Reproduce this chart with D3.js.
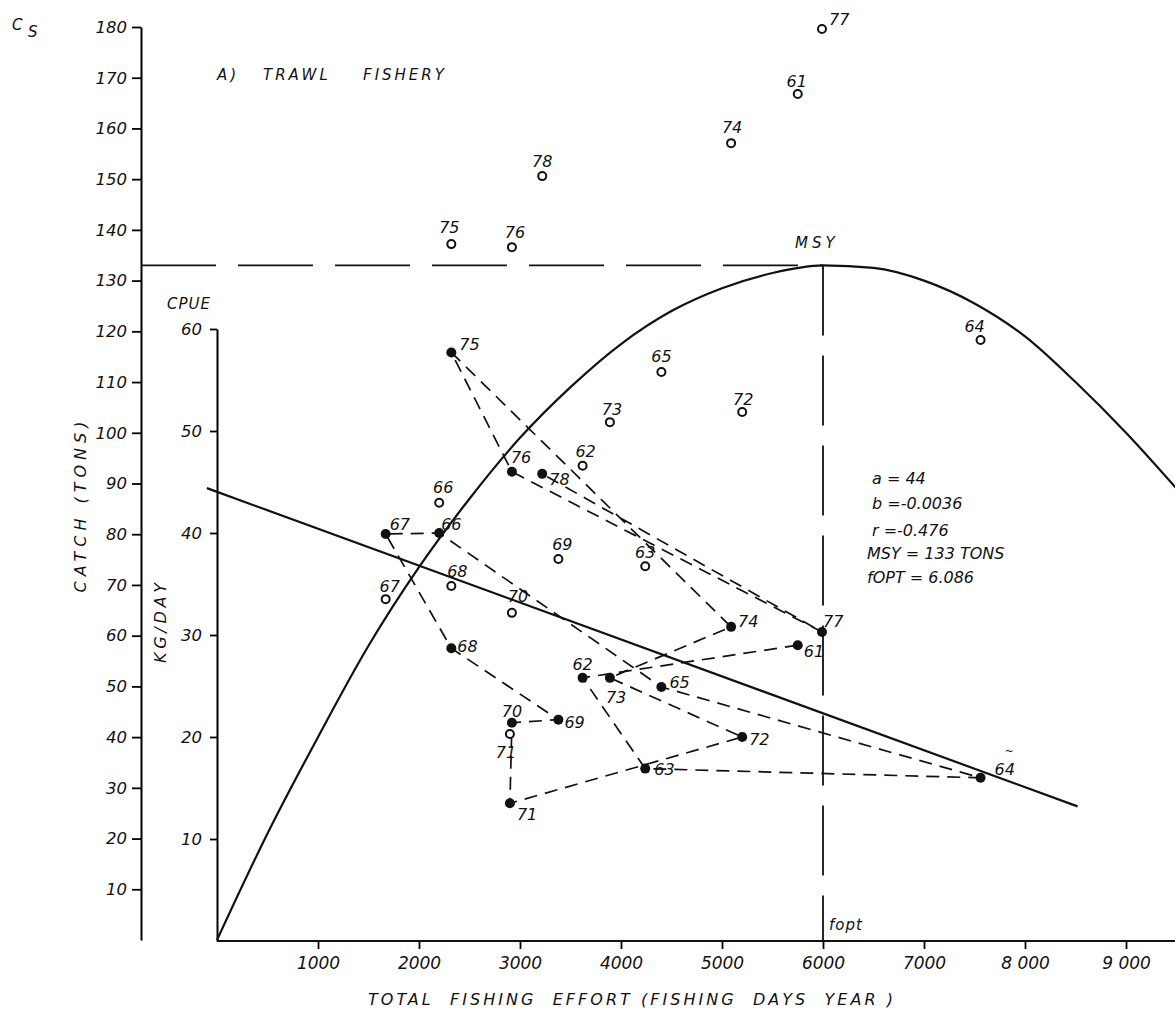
<!DOCTYPE html>
<html>
<head>
<meta charset="utf-8">
<script src="https://cdn.jsdelivr.net/npm/d3@7"></script>
<style>
  body { margin: 0; background: #fff; }
  svg text { font-family: "DejaVu Sans", sans-serif; font-style: italic; fill: #111; }
</style>
</head>
<body>
<svg id="chart" width="1175" height="1010"></svg>
<script>
  // Years 1961-1978, effort in fishing days, catch in tons, CPUE in kg/day
  const years     = [61, 62, 63, 64, 65, 66, 67, 68, 69, 70, 71, 72, 73, 74, 75, 76, 77, 78];
  const effort    = [5750, 3620, 4240, 7560, 4400, 2200, 1670, 2320, 3380, 2920, 2900, 5200, 3890, 5090, 2320, 2920, 5990, 3220];
  const catchTons = [166.8, 93.5, 73.7, 118.3, 112.0, 86.2, 67.2, 69.8, 75.1, 64.5, 40.6, 104.1, 102.1, 157.1, 137.2, 136.6, 179.6, 150.6];
  const cpue      = [29.0, 25.8, 16.9, 16.0, 24.9, 40.0, 39.9, 28.7, 21.7, 21.4, 13.5, 20.0, 25.8, 30.8, 57.7, 46.0, 30.3, 45.8];

  // fitted yield curve
  const curveEffort = [0, 500, 1000, 1500, 2000, 2500, 3000, 3500, 4000, 4500, 5000, 5500, 6000, 6500, 7000, 7500, 8000, 8500, 9000, 9500];
  const curveCatch  = [0, 21, 40, 58, 73.5, 87, 99, 109, 117.5, 124, 128.5, 131.5, 133, 132.5, 130, 125.5, 119, 110, 100, 89];

  // CPUE regression line end points
  const regEffort = [-100, 8520];
  const regCpue   = [44.4, 13.2];

  const catchTicks  = [10, 20, 30, 40, 50, 60, 70, 80, 90, 100, 110, 120, 130, 140, 150, 160, 170, 180];
  const cpueTicks   = [10, 20, 30, 40, 50, 60];
  const effortTicks = [1000, 2000, 3000, 4000, 5000, 6000, 7000, 8000, 9000];
  const effortTickLabels = ['1000', '2000', '3000', '4000', '5000', '6000', '7000', '8 000', '9 000'];

  const msy = 133;
  const foptLine = 6000;
  const stats = ['a = 44', 'b =-0.0036', 'r =-0.476', 'MSY = 133 TONS', 'fOPT = 6.086'];

  // label placement [dx, dy, anchor]
  const openLabelPos = {
    61: [-1, -7, 'middle'], 62: [3, -9, 'middle'], 63: [0, -8, 'middle'], 64: [-6, -8, 'middle'],
    65: [0, -10, 'middle'], 66: [4, -10, 'middle'], 67: [4, -7, 'middle'], 68: [6, -9, 'middle'],
    69: [4, -9, 'middle'], 70: [6, -11, 'middle'], 71: [-4, 24, 'middle'], 72: [1, -7, 'middle'],
    73: [2, -7, 'middle'], 74: [1, -10, 'middle'], 75: [-2, -11, 'middle'], 76: [3, -9, 'middle'],
    77: [7, -4, 'start'], 78: [0, -9, 'middle']
  };
  const fullLabelPos = {
    61: [6, 12, 'start'], 62: [0, -8, 'middle'], 63: [9, 6, 'start'], 64: [14, -3, 'start'],
    65: [8, 1, 'start'], 66: [2, -3, 'start'], 67: [4, -4, 'start'], 68: [6, 4, 'start'],
    69: [6, 8, 'start'], 70: [0, -6, 'middle'], 71: [7, 17, 'start'], 72: [7, 8, 'start'],
    73: [-4, 25, 'start'], 74: [7, 0, 'start'], 75: [8, -2, 'start'], 76: [-1, -9, 'start'],
    77: [1, -5, 'start'], 78: [7, 11, 'start']
  };

  const svg = d3.select('#chart');
  const outerAxisX = 141;
  const innerAxisX = 217;

  const x = d3.scaleLinear().domain([0, 9000]).range([217, 1126]);
  const yCatch = d3.scaleLinear().domain([0, 180]).range([940, 27]);
  const yCpue = d3.scaleLinear().domain([0, 60]).range([941, 329]);
  const baseY = yCpue(0);

  // Outer catch axis
  const catchAxis = svg.append('g')
    .attr('transform', `translate(${outerAxisX},0)`)
    .call(d3.axisLeft(yCatch).tickValues(catchTicks).tickSize(9).tickPadding(5).tickSizeOuter(0));
  catchAxis.select('.domain').attr('stroke-width', 2);
  catchAxis.selectAll('.tick line').attr('stroke-width', 1.8);
  catchAxis.selectAll('text').style('font-size', '16.5px').attr('font-family', null);

  // Inner CPUE axis
  const cpueAxis = svg.append('g')
    .attr('transform', `translate(${innerAxisX},0)`)
    .call(d3.axisLeft(yCpue).tickValues(cpueTicks).tickSize(7).tickPadding(8).tickSizeOuter(0));
  cpueAxis.select('.domain').attr('stroke-width', 2);
  cpueAxis.selectAll('.tick line').attr('stroke-width', 1.8);
  cpueAxis.selectAll('text').style('font-size', '16.5px').attr('font-family', null);

  // X axis
  const xAxis = svg.append('g')
    .attr('transform', `translate(0,${baseY})`)
    .call(d3.axisBottom(x).tickValues(effortTicks)
      .tickFormat((d, i) => effortTickLabels[i])
      .tickSize(8).tickPadding(8).tickSizeOuter(0));
  xAxis.select('.domain').remove();
  xAxis.selectAll('.tick line').attr('stroke-width', 1.8);
  xAxis.selectAll('text').style('font-size', '17px').style('white-space', 'pre').attr('font-family', null);
  svg.append('line')
    .attr('x1', x(0)).attr('x2', x(9500))
    .attr('y1', baseY).attr('y2', baseY)
    .attr('stroke', '#111').attr('stroke-width', 2.2);

  // MSY horizontal and fopt vertical dashed lines
  svg.append('line')
    .attr('x1', outerAxisX).attr('x2', x(foptLine))
    .attr('y1', yCatch(msy)).attr('y2', yCatch(msy))
    .attr('stroke', '#111').attr('stroke-width', 1.8)
    .attr('stroke-dasharray', '75,22');
  svg.append('line')
    .attr('x1', x(foptLine)).attr('x2', x(foptLine))
    .attr('y1', yCatch(msy)).attr('y2', baseY)
    .attr('stroke', '#111').attr('stroke-width', 1.8)
    .attr('stroke-dasharray', '70,20');

  // Yield curve
  const curvePts = curveEffort.map((e, i) => [e, curveCatch[i]]);
  svg.append('path')
    .datum(curvePts)
    .attr('fill', 'none').attr('stroke', '#111').attr('stroke-width', 2.2)
    .attr('d', d3.line().x(d => x(d[0])).y(d => yCatch(d[1])).curve(d3.curveMonotoneX));

  // CPUE regression line
  const regPts = regEffort.map((e, i) => [e, regCpue[i]]);
  svg.append('path')
    .datum(regPts)
    .attr('fill', 'none').attr('stroke', '#111').attr('stroke-width', 2.2)
    .attr('d', d3.line().x(d => x(d[0])).y(d => yCpue(d[1])));

  // CPUE trajectory (chronological, dashed)
  const rows = years.map((yr, i) => ({ yr, e: effort[i], c: catchTons[i], u: cpue[i] }));
  svg.append('path')
    .datum(rows)
    .attr('fill', 'none').attr('stroke', '#111').attr('stroke-width', 1.7)
    .attr('stroke-dasharray', '13,8')
    .attr('d', d3.line().x(d => x(d.e)).y(d => yCpue(d.u)));

  // Catch points (open circles)
  svg.selectAll('.catch-pt')
    .data(rows)
    .enter().append('circle')
    .attr('class', 'catch-pt')
    .attr('cx', d => x(d.e)).attr('cy', d => yCatch(d.c))
    .attr('r', 4)
    .attr('fill', '#fff').attr('stroke', '#111').attr('stroke-width', 2);

  svg.selectAll('.catch-lbl')
    .data(rows)
    .enter().append('text')
    .attr('class', 'catch-lbl')
    .attr('x', d => x(d.e) + openLabelPos[d.yr][0])
    .attr('y', d => yCatch(d.c) + openLabelPos[d.yr][1])
    .attr('text-anchor', d => openLabelPos[d.yr][2])
    .style('font-size', '16px')
    .text(d => d.yr);

  // CPUE points (filled)
  svg.selectAll('.cpue-pt')
    .data(rows)
    .enter().append('circle')
    .attr('class', 'cpue-pt')
    .attr('cx', d => x(d.e)).attr('cy', d => yCpue(d.u))
    .attr('r', 5)
    .attr('fill', '#111');

  svg.selectAll('.cpue-lbl')
    .data(rows)
    .enter().append('text')
    .attr('class', 'cpue-lbl')
    .attr('x', d => x(d.e) + fullLabelPos[d.yr][0])
    .attr('y', d => yCpue(d.u) + fullLabelPos[d.yr][1])
    .attr('text-anchor', d => fullLabelPos[d.yr][2])
    .style('font-size', '16px')
    .text(d => d.yr);

  // small mark over the 64 label
  const r64 = rows.find(d => d.yr === 64);
  svg.append('text')
    .attr('x', x(r64.e) + 24).attr('y', yCpue(r64.u) - 23)
    .style('font-size', '11px')
    .text('~');

  // Texts
  svg.append('text').attr('x', 12).attr('y', 30).style('font-size', '15px').text('C');
  svg.append('text').attr('x', 28).attr('y', 37).style('font-size', '15px').text('S');

  const title = svg.append('g').style('font-size', '15px').style('letter-spacing', '3px');
  title.append('text').attr('x', 217).attr('y', 80).text('A)');
  title.append('text').attr('x', 263).attr('y', 80).text('TRAWL');
  title.append('text').attr('x', 363).attr('y', 80).text('FISHERY');

  svg.append('text').attr('x', 167).attr('y', 309)
    .style('font-size', '15px').style('letter-spacing', '1px').text('CPUE');

  svg.append('text')
    .attr('transform', 'translate(86,507) rotate(-90)')
    .attr('text-anchor', 'middle')
    .style('font-size', '16px')
    .attr('textLength', 171).attr('lengthAdjust', 'spacing')
    .text('CATCH (TONS)');

  svg.append('text')
    .attr('transform', 'translate(166,623) rotate(-90)')
    .attr('text-anchor', 'middle')
    .style('font-size', '16px')
    .attr('textLength', 80).attr('lengthAdjust', 'spacing')
    .text('KG/DAY');

  svg.append('text')
    .attr('x', 368).attr('y', 1005)
    .style('font-size', '16px').style('white-space', 'pre')
    .attr('textLength', 525).attr('lengthAdjust', 'spacing')
    .text('TOTAL  FISHING  EFFORT (FISHING  DAYS  YEAR )');

  svg.append('text').attr('x', 795).attr('y', 248)
    .style('font-size', '15px').style('letter-spacing', '4px').text('MSY');

  svg.append('text').attr('x', x(foptLine) + 6).attr('y', 930)
    .style('font-size', '15px').style('letter-spacing', '1px').text('fopt');

  const statX = [872, 872, 872, 867, 867];
  const statY = [484, 509, 536, 559, 583];
  svg.selectAll('.stat')
    .data(stats)
    .enter().append('text')
    .attr('class', 'stat')
    .attr('x', (d, i) => statX[i]).attr('y', (d, i) => statY[i])
    .style('font-size', '16px')
    .text(d => d);
</script>
</body>
</html>
